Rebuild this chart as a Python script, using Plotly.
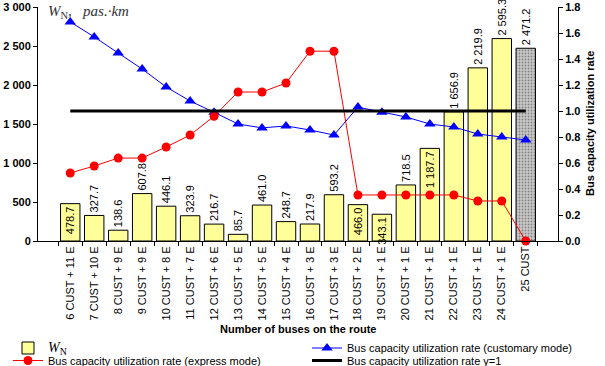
import plotly.graph_objects as go

categories = ["6 CUST + 11 E", "7 CUST + 10 E", "8 CUST + 9 E", "9 CUST + 9 E", "10 CUST + 8 E",
              "11 CUST + 7 E", "12 CUST + 6 E", "13 CUST + 5 E", "14 CUST + 5 E", "15 CUST + 4 E",
              "16 CUST + 3 E", "17 CUST + 3 E", "18 CUST + 2 E", "19 CUST + 1 E", "20 CUST + 1 E",
              "21 CUST + 1 E", "22 CUST + 1 E", "23 CUST + 1 E", "24 CUST + 1 E", "25 CUST"]
wn_values = [478.7, 327.7, 138.6, 607.8, 446.1, 323.9, 216.7, 85.7, 461.0, 248.7,
             217.9, 593.2, 466.0, 343.1, 718.5, 1187.7, 1656.9, 2219.9, 2595.3, 2471.2]
customary_rate = [1.685, 1.57, 1.446, 1.323, 1.185, 1.077, 0.99, 0.90, 0.87, 0.885,
                  0.854, 0.815, 1.03, 0.99, 0.954, 0.90, 0.877, 0.823, 0.80, 0.777]
express_rate = [0.523, 0.577, 0.638, 0.638, 0.723, 0.815, 0.96, 1.146, 1.146, 1.215,
                1.46, 1.46, 0.354, 0.354, 0.354, 0.354, 0.354, 0.308, 0.308, 0.0]
reference_rate = 1.0
left_ticks = [0, 500, 1000, 1500, 2000, 2500, 3000]
right_ticks = [0.0, 0.2, 0.4, 0.6, 0.8, 1.0, 1.2, 1.4, 1.6, 1.8]

n = len(categories)
bar_colors = ["#FFFF99"] * (n - 1) + ["#C8C8C8"]
pattern_shapes = [""] * (n - 1) + ["."]
inside_idx = {0, 12, 13, 15}
text_pos = ["inside" if i in inside_idx else "outside" for i in range(n)]

wn_label = "<span style='font-family:Liberation Serif;font-size:14px'><i>W</i><sub>N</sub></span>"

fig = go.Figure()
fig.add_trace(go.Bar(
    x=categories, y=wn_values, name=wn_label, yaxis="y", legend="legend",
    marker=dict(color=bar_colors, line=dict(color="black", width=1),
                pattern=dict(shape=pattern_shapes, fgcolor="#888888", bgcolor="#CCCCCC", size=3, solidity=0.3)),
    texttemplate="%{y:,.1f}", textposition=text_pos, textangle=-90,
    insidetextanchor="end", constraintext="none", cliponaxis=False,
    textfont=dict(family="Arial", size=11, color="black"),
))
fig.add_trace(go.Scatter(
    x=categories, y=customary_rate, yaxis="y2", mode="lines+markers", legend="legend2",
    name="Bus capacity utilization rate (customary mode)",
    line=dict(color="#0000FF", width=1), marker=dict(symbol="triangle-up", size=10, color="#0000FF"),
))
fig.add_trace(go.Scatter(
    x=categories, y=express_rate, yaxis="y2", mode="lines+markers", legend="legend3",
    name="Bus capacity utilization rate (express mode)",
    line=dict(color="#FF0000", width=1), marker=dict(symbol="circle", size=9, color="#FF0000"),
    cliponaxis=False,
))
fig.add_trace(go.Scatter(
    x=[categories[0], categories[-1]], y=[reference_rate, reference_rate], yaxis="y2", mode="lines",
    legend="legend4", name="Bus capacity utilization rate γ=1",
    line=dict(color="black", width=3),
))

leg_common = dict(xref="container", yref="container", xanchor="left", yanchor="middle",
                  font=dict(family="Arial", size=11, color="black"), itemwidth=30,
                  bgcolor="rgba(0,0,0,0)", borderwidth=0)

fig.update_layout(
    width=605, height=366,
    margin=dict(l=38, r=47, t=7, b=125, autoexpand=False),
    paper_bgcolor="white", plot_bgcolor="white",
    separators=". ",
    bargap=0.19,
    showlegend=True,
    font=dict(family="Arial", size=11, color="black"),
    xaxis=dict(
        type="category", tickangle=-90, tickson="boundaries", ticks="outside", ticklen=4,
        tickcolor="black", showline=True, linecolor="black", linewidth=1,
        showgrid=False, tickfont=dict(family="Arial", size=11, color="black"),
    ),
    yaxis=dict(
        range=[0, 3000], tickvals=left_ticks, tickformat=",d", ticks="outside", ticklen=4,
        tickcolor="black", showline=True, linecolor="black", linewidth=1, showgrid=False,
        zeroline=False, tickfont=dict(family="Arial", size=11, color="black", weight="bold"),
    ),
    yaxis2=dict(
        overlaying="y", side="right", range=[0, 1.8], tickvals=right_ticks, tickformat=".1f",
        ticks="outside", ticklen=4, tickcolor="black", showline=True, linecolor="black", linewidth=1,
        showgrid=False, zeroline=False,
        tickfont=dict(family="Arial", size=11, color="black", weight="bold"),
    ),
    legend=dict(x=8 / 605, y=18 / 366, **leg_common),
    legend2=dict(x=307 / 605, y=18 / 366, **leg_common),
    legend3=dict(x=8 / 605, y=5.5 / 366, **leg_common),
    legend4=dict(x=307 / 605, y=5.5 / 366, **leg_common),
    annotations=[
        dict(text="<i>W</i><sub>N</sub><i>,   pas.·km</i>", xref="paper", yref="paper",
             x=0.015, y=1.0, xanchor="left", yanchor="top", yshift=6, showarrow=False,
             font=dict(family="Liberation Serif", size=15, color="#333333")),
        dict(text="<b>Number of buses on the route</b>", xref="paper", yref="paper",
             x=0.5, y=(241 - 329) / 234, xanchor="center", yanchor="middle", showarrow=False,
             font=dict(family="Arial", size=11, color="black")),
        dict(text="<b>Bus capacity utilization rate</b>", xref="paper", yref="paper",
             x=(590 - 38) / 520, y=0.5, xanchor="center", yanchor="middle", textangle=-90,
             showarrow=False, font=dict(family="Arial", size=11, color="black")),
    ],
)

fig.write_html("out.html", config={"displayModeBar": False},
               post_script="document.body.style.margin='0';")
